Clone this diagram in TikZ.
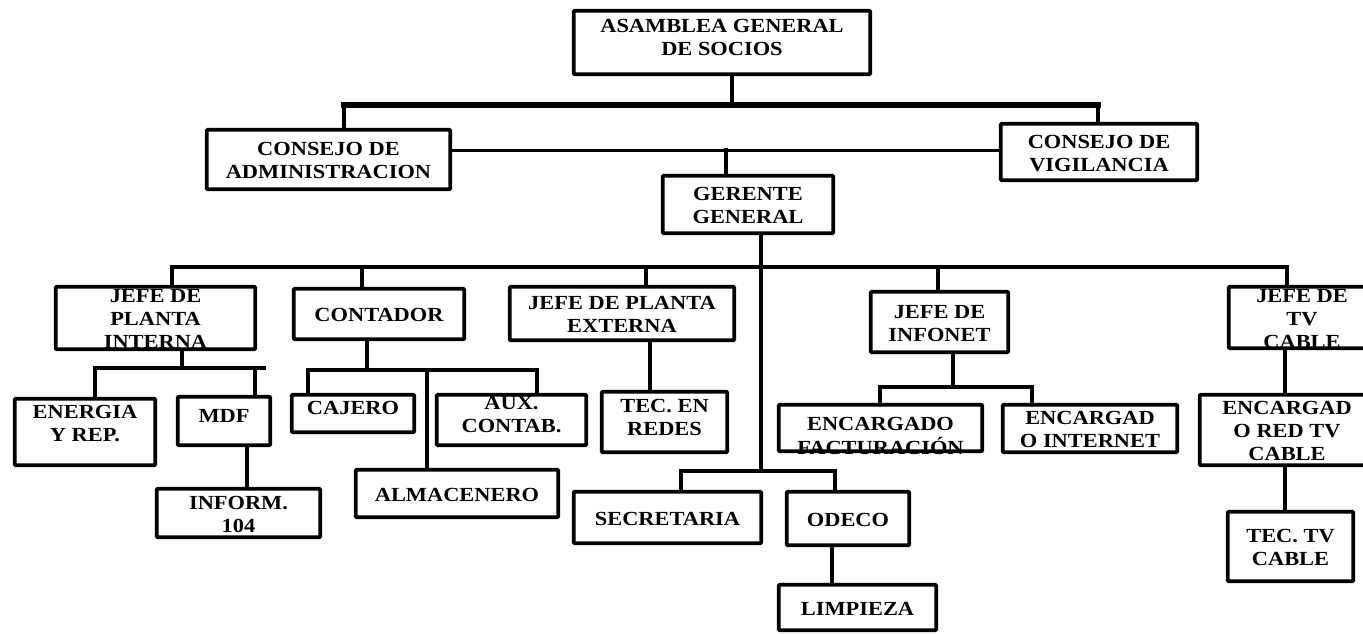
\documentclass[tikz,border=0pt]{standalone}
\usepackage{fontspec}
\newfontfamily\orgfont{Liberation Serif}[FakeStretch=1.12]
\newcommand\boxtext[2]{\raisebox{\dimexpr #1pt-8.5pt\relax}[0pt][0pt]{\begin{tabular}{@{}c@{}}#2\end{tabular}}}
\newcommand\orgbox[7]{\node[box, minimum width={#3-#2-3.5}, minimum height={#5-#4-3.5}] (#1) at ({(#2+#3)/2},{(#4+#5)/2}) {\boxtext{#6}{#7}};}
\begin{document}
\begin{tikzpicture}[x=1pt,y=-1pt,
  box/.style={draw, line width=3.8pt, inner sep=0pt, rounded corners=1pt,
    font=\orgfont\bfseries\fontsize{20}{23}\selectfont},
  conn/.style={line width=4.2pt, line cap=rect},
  thickbus/.style={line width=6pt, line cap=rect},
  thinconn/.style={line width=3pt}]
\useasboundingbox (0,0) rectangle (1363,634);
\clip (0,0) rectangle (1363,634);

\orgbox{asam}{572}{872}{9}{76}{6.5}{ASAMBLEA GENERAL\\DE SOCIOS}
\orgbox{cadm}{205}{452}{128}{191}{0}{CONSEJO DE\\ADMINISTRACION}
\orgbox{cvig}{999}{1199}{122}{182}{0}{CONSEJO DE\\VIGILANCIA}
\orgbox{ger}{661}{835}{174}{235}{0}{GERENTE\\GENERAL}
\orgbox{jpi}{54}{257}{285}{351}{0}{JEFE DE\\PLANTA\\INTERNA}
\orgbox{cont}{292}{466}{287}{341}{0}{CONTADOR}
\orgbox{jpe}{508}{736}{285}{342}{0}{JEFE DE PLANTA\\EXTERNA}
\orgbox{jinf}{869}{1010}{290}{354}{0}{JEFE DE\\INFONET}
\orgbox{jtv}{1227}{1377}{285}{350}{0}{JEFE DE\\TV\\CABLE}
\orgbox{ener}{13}{157}{397}{467}{10}{ENERGIA\\Y REP.}
\orgbox{mdf}{176}{272}{395}{447}{6}{MDF}
\orgbox{inf}{155}{322}{487}{539}{0}{INFORM.\\104}
\orgbox{caj}{290}{416}{393}{434}{6.5}{CAJERO}
\orgbox{aux}{435}{588}{393}{447}{6.5}{AUX.\\CONTAB.}
\orgbox{alm}{354}{560}{468}{519}{0}{ALMACENERO}
\orgbox{tec}{600}{729}{390}{454}{6}{TEC. EN\\REDES}
\orgbox{sec}{572}{763}{490}{545}{0}{SECRETARIA}
\orgbox{ode}{785}{911}{490}{547}{0}{ODECO}
\orgbox{lim}{777}{938}{583}{632}{0}{LIMPIEZA}
\orgbox{efac}{777}{984}{403}{453}{-7}{ENCARGADO\\FACTURACIÓN}
\orgbox{eint}{1001}{1179}{403}{454}{0}{ENCARGAD\\O INTERNET}
\orgbox{erv}{1198}{1376}{393}{467}{0}{ENCARGAD\\O RED TV\\CABLE}
\orgbox{ttv}{1226}{1355}{510}{583}{0}{TEC. TV\\CABLE}

% top level
\coordinate (ta) at (732,105);
\coordinate (tl) at (344,105);
\coordinate (tr) at (1098,105);
\draw[conn] (ta |- asam.south) -- (ta);
\draw[thickbus] (tl) -- (tr);
\draw[conn] (tl) -- (tl |- cadm.north);
\draw[conn] (tr) -- (tr |- cvig.north);
\coordinate (tg) at (726,150);
\draw[thinconn] (cadm.east |- tg) -- (cvig.west |- tg);
\draw[conn] (tg) -- (tg |- ger.north);

% gerente
\coordinate (gs) at (761,471);
\draw[conn] (ger.south -| gs) -- (gs);
\coordinate (ml) at (172,267);
\coordinate (mr) at (1287,267);
\coordinate (mc) at (362,267);
\coordinate (me) at (646,267);
\coordinate (mi) at (938,267);
\draw[conn] (ml) -- (mr);
\draw[conn] (ml) -- (ml |- jpi.north);
\draw[conn] (mc) -- (mc |- cont.north);
\draw[conn] (me) -- (me |- jpe.north);
\draw[conn] (mi) -- (mi |- jinf.north);
\draw[conn] (mr) -- (mr |- jtv.north);

% planta interna
\coordinate (pa) at (182,368);
\coordinate (pl) at (95,368);
\coordinate (pr) at (264,368);
\coordinate (pm) at (255,368);
\draw[conn] (jpi.south -| pa) -- (pa);
\draw[conn] (pl) -- (pr);
\draw[conn] (pl) -- (pl |- ener.north);
\draw[conn] (pm) -- (pm |- mdf.north);
\coordinate (md) at (247,447);
\draw[conn] (mdf.south -| md) -- (md |- inf.north);

% contador
\coordinate (ca) at (367,370);
\coordinate (cl) at (308,370);
\coordinate (cr) at (537,370);
\coordinate (cm) at (427,370);
\draw[conn] (cont.south -| ca) -- (ca);
\draw[conn] (cl) -- (cr);
\draw[conn] (cl) -- (cl |- caj.north);
\draw[conn] (cr) -- (cr |- aux.north);
\draw[conn] (cm) -- (cm |- alm.north);

% planta externa
\coordinate (ea) at (650,380);
\draw[conn] (jpe.south -| ea) -- (ea |- tec.north);

% secretaria / odeco
\coordinate (sl) at (681,471);
\coordinate (sr) at (835,471);
\draw[conn] (sl) -- (sr);
\draw[conn] (sl) -- (sl |- sec.north);
\draw[conn] (sr) -- (sr |- ode.north);
\coordinate (ol) at (832,547);
\draw[conn] (ode.south -| ol) -- (ol |- lim.north);

% infonet
\coordinate (ia) at (953,387);
\coordinate (il) at (880,387);
\coordinate (ir) at (1032,387);
\draw[conn] (jinf.south -| ia) -- (ia);
\draw[conn] (il) -- (ir);
\draw[conn] (il) -- (il |- efac.north);
\draw[conn] (ir) -- (ir |- eint.north);

% tv cable
\coordinate (va) at (1285,350);
\draw[conn] (jtv.south -| va) -- (va |- erv.north);
\draw[conn] (erv.south -| va) -- (va |- ttv.north);
\end{tikzpicture}
\end{document}
